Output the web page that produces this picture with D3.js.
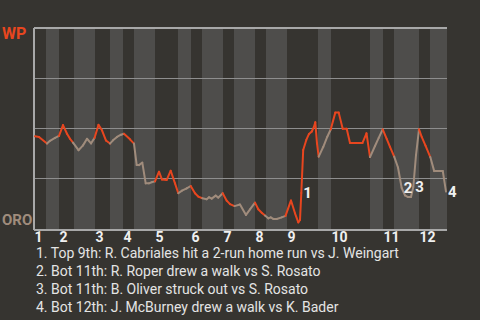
<!DOCTYPE html>
<html>
<head>
<meta charset="utf-8">
<script src="https://cdn.jsdelivr.net/npm/d3@7"></script>
<style>
  html, body { margin: 0; padding: 0; background: #363430; }
  svg { display: block; }
  text { font-family: Roboto, "Noto Sans", sans-serif; }
</style>
</head>
<body>
<svg id="chart" width="480" height="320"></svg>
<script>
// ---- DATA ----
// Game progress measured in pitches; boundaries of each half-inning (top 1, bot 1, top 2, ...)
const halfInningStarts = [0, 12, 25, 40, 61, 76, 89, 100, 121, 144, 157, 168, 189, 200, 221, 232, 253, 284, 297, 336, 349, 360, 385, 396, 413];
const inningLabels = ["1","2","3","4","5","6","7","8","9","10","11","12"];

// Win probability for WP (percent) after each plate appearance, indexed by pitch count
const playPitch = [
  1, 5, 13,
  16, 21, 25,
  29, 33, 36, 39,
  44.5, 49, 53, 57, 60.5,
  64.5, 68, 72, 76,
  79, 83, 87, 90,
  96, 100,
  102.7, 105, 108.3, 111.7, 115, 118.3, 121,
  125, 128, 132.7, 136.7, 141, 144.3,
  148, 152.7, 156.7,
  161, 164.3, 168.3,
  172.7, 175, 177.7, 181.7, 184.3, 188.7,
  192.7, 196, 200.5,
  206, 212, 216, 221,
  224.3, 227.7, 231,
  234.3, 236.7, 239.3, 242.7, 247.7, 251.5,
  257, 261, 264.3, 266, 267.3, 269.2, 272.3, 275, 277.8, 280, 281.3, 283, 284.7,
  289.3, 293.3, 296.7,
  301.3, 304.7, 308.7, 312.7, 316, 320, 324, 328.5, 332.5, 336,
  341, 344.7, 348.7,
  352.7, 356, 360.2,
  364, 367.7, 371, 374, 377, 379.3, 382, 385,
  387.7, 391.5, 396.3,
  400.2, 404.5, 408.8, 412
];
const playWP = [
  46.1, 45.8, 42.5,
  43.9, 45.3, 46.3,
  51.7, 47.4, 44.9, 43.0,
  39.2, 41.6, 44.9, 42.6, 45.3,
  51.8, 49.1, 44.0, 42.5,
  44.1, 45.8, 46.9, 47.4,
  44.6, 42.5,
  31.8, 31.8, 33.0, 22.7, 22.7, 23.4, 23.7,
  28.5, 24.6, 24.4, 29.0, 22.7, 17.8,
  19.1, 20.2, 21.4,
  17.8, 16.1, 15.3,
  14.8, 15.8, 15.1, 16.6, 15.6, 17.8,
  14.1, 12.4, 11.4,
  12.2, 7.0, 9.8, 13.1,
  9.8, 8.1, 6.7,
  5.3, 5.8, 5.0, 5.0, 5.8, 6.5,
  14.2, 7.8, 3.3, 4.5, 17.9, 39.3, 44.3, 47.3, 48.5, 50.9, 53.1, 42.6, 36.0,
  40.9, 45.9, 49.5,
  57.9, 57.9, 49.9, 49.9, 42.8, 42.8, 42.8, 42.8, 47.6, 35.8,
  41.3, 45.3, 49.6,
  44.8, 40.9, 36.0,
  30.6, 20.4, 16.7, 15.9, 15.9, 20.9, 36.8, 49.6,
  45.8, 41.5, 35.8,
  28.8, 28.8, 28.8, 18.6
];

// Key plays: index into the play arrays, and description
const keyPlayIndex = [70, 99, 103, 112];
const keyPlayText = [
  "1. Top 9th: R. Cabriales hit a 2-run home run vs J. Weingart",
  "2. Bot 11th: R. Roper drew a walk vs S. Rosato",
  "3. Bot 11th: B. Oliver struck out vs S. Rosato",
  "4. Bot 12th: J. McBurney drew a walk vs K. Bader"
];
const teamTop = "WP";
const teamBottom = "ORO";

// ---- STYLE ----
const colTop = "#e8461f";
const colBottom = "#a08c7c";
const bg = "#363430";
const bandLight = "#4e4d4b";

const svg = d3.select("#chart");
const W = 480, H = 320;
const margin = { left: 34, right: 33, top: 28, bottom: 91 };

const x = d3.scaleLinear()
  .domain([halfInningStarts[0], halfInningStarts[halfInningStarts.length - 1]])
  .range([margin.left, W - margin.right]);
const y = d3.scaleLinear().domain([0, 100]).range([H - margin.bottom, margin.top]);

svg.append("rect").attr("width", W).attr("height", H).attr("fill", bg);

// half-inning bands (bottom halves lighter)
const halves = d3.range(halfInningStarts.length - 1).map(i => ({
  i, start: halfInningStarts[i], end: halfInningStarts[i + 1], bottom: i % 2 === 1
}));
svg.append("g").selectAll("rect").data(halves).join("rect")
  .attr("x", d => x(d.start))
  .attr("width", d => x(d.end) - x(d.start))
  .attr("y", y(100))
  .attr("height", y(0) - y(100))
  .attr("fill", d => d.bottom ? bandLight : bg);

// gridlines
svg.append("g").selectAll("line").data([25, 50, 75]).join("line")
  .attr("x1", x.range()[0]).attr("x2", x.range()[1])
  .attr("y1", d => y(d)).attr("y2", d => y(d))
  .attr("stroke", "#8e8e8e").attr("stroke-width", 1).attr("shape-rendering", "crispEdges");

// frame: top, left, bottom
const frame = svg.append("g").attr("stroke", "#a8a8a8").attr("stroke-width", 1.2).attr("shape-rendering", "crispEdges");
frame.append("line").attr("x1", x.range()[0]).attr("x2", x.range()[1]).attr("y1", y(100)).attr("y2", y(100));
frame.append("line").attr("x1", x.range()[0]).attr("x2", x.range()[0]).attr("y1", y(100)).attr("y2", y(0) + 1);
frame.append("line").attr("x1", x.range()[0]).attr("x2", x.range()[1]).attr("y1", y(0) + 1).attr("y2", y(0) + 1);

// WP line segments, coloured by batting half
const pts = playPitch.map((p, i) => ({ p, wp: playWP[i] }));
const segs = d3.range(1, pts.length).map(i => {
  const mid = (pts[i - 1].p + pts[i].p) / 2;
  const h = Math.max(0, d3.bisectRight(halfInningStarts, mid) - 1);
  return { a: pts[i - 1], b: pts[i], bottom: h % 2 === 1 };
});
svg.append("g").selectAll("line").data(segs).join("line")
  .attr("x1", d => x(d.a.p)).attr("y1", d => y(d.a.wp))
  .attr("x2", d => x(d.b.p)).attr("y2", d => y(d.b.wp))
  .attr("stroke", d => d.bottom ? colBottom : colTop)
  .attr("stroke-width", 2)
  .attr("stroke-linecap", "round");

// key play markers
svg.append("g").selectAll("text").data(keyPlayIndex).join("text")
  .attr("x", d => x(playPitch[d]) + 2)
  .attr("y", d => y(playWP[d]))
  .attr("dy", "0.36em")
  .attr("fill", "#f0f0f0")
  .attr("font-size", 15)
  .attr("font-weight", "bold")
  .text((d, i) => String(i + 1));

// team labels
svg.append("text").attr("x", 2).attr("y", y(100) + 11).attr("fill", colTop)
  .attr("font-size", 16).attr("font-weight", "bold").text(teamTop);
svg.append("text").attr("x", 2).attr("y", y(0) - 4).attr("fill", colBottom)
  .attr("font-size", 15).attr("font-weight", "bold").text(teamBottom);

// inning labels at start of each top half
svg.append("g").selectAll("text").data(inningLabels).join("text")
  .attr("x", (d, i) => x(halfInningStarts[2 * i]) + 0.5)
  .attr("y", y(0) + 12.5)
  .attr("fill", "#f0f0f0")
  .attr("font-size", 14)
  .attr("font-weight", "bold")
  .text(d => d);

// key play descriptions
svg.append("g").selectAll("text").data(keyPlayText).join("text")
  .attr("x", 36)
  .attr("y", (d, i) => 257.5 + i * 18)
  .attr("fill", "#e4e4e4")
  .attr("font-size", 14)
  .text(d => d);
</script>
</body>
</html>
